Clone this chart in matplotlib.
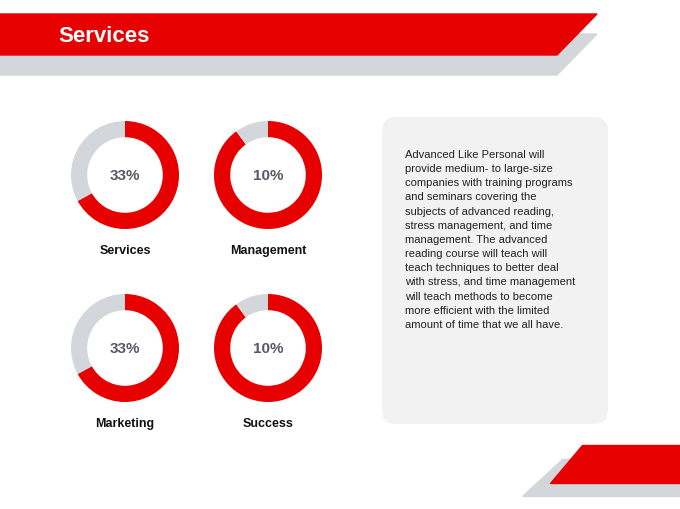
import matplotlib.pyplot as plt
from matplotlib.patches import Polygon, FancyBboxPatch

labels = ['Services', 'Management', 'Marketing', 'Success']
percents = [33, 10, 33, 10]
centers = [(125, 176), (268, 176), (125, 349), (268, 349)]
body = ("Advanced Like Personal will\nprovide medium- to large-size\ncompanies with training programs\n"
        "and seminars covering the\nsubjects of advanced reading,\nstress management, and time\n"
        "management. The advanced\nreading course will teach will\nteach techniques to better deal\n"
        "with stress, and time management\nwill teach methods to become\nmore efficient with the limited\n"
        "amount of time that we all have.")

RED = '#e60000'
GRAY = '#d3d6da'
W, H = 680, 510
FONT = ['Liberation Sans', 'DejaVu Sans']

fig = plt.figure(figsize=(6.8, 5.1), dpi=100)
ax = fig.add_axes([0, 0, 1, 1])
ax.set_xlim(0, W)
ax.set_ylim(H, 0)
ax.axis('off')

# header bands
ax.add_patch(Polygon([(0, 35), (597, 35), (557, 76), (0, 76)], color=GRAY))
ax.add_patch(Polygon([(0, 15), (597, 15), (557, 56), (0, 56)], color=RED))
ax.text(58, 37, 'Services', color='white', fontsize=16, fontweight='bold', va='center', family=FONT)

# footer bands
ax.add_patch(Polygon([(562, 460), (680, 460), (680, 497), (522, 497)], color=GRAY))
ax.add_patch(Polygon([(582, 446), (680, 446), (680, 484), (550, 484)], color=RED))

# text box
ax.add_patch(FancyBboxPatch((392, 128), 206, 287, boxstyle='round,pad=10,rounding_size=14',
                            facecolor='#f2f2f2', edgecolor='none'))
ax.text(405, 150, body, fontsize=8, va='top', color='#222222', linespacing=1.52, family=FONT)

# donuts
R = 54
for (cx, cy), lab, p in zip(centers, labels, percents):
    dax = fig.add_axes([(cx - R) / W, 1 - (cy + R) / H, 2 * R / W, 2 * R / H])
    dax.pie([100 - p, p], colors=[RED, GRAY], startangle=90, counterclock=False, radius=1,
            wedgeprops=dict(width=0.3, edgecolor='none'))
    dax.set_xlim(-1, 1)
    dax.set_ylim(-1, 1)
    dax.set_aspect('auto')
    dax.text(0, 0, f'{p}%', ha='center', va='center', fontsize=11, fontweight='bold',
             color='#555a66', family=FONT)
    ax.text(cx, cy + 75, lab, ha='center', va='center', fontsize=9, fontweight='bold',
            color='#111111', family=FONT)

fig.savefig('out.png', dpi=100)
